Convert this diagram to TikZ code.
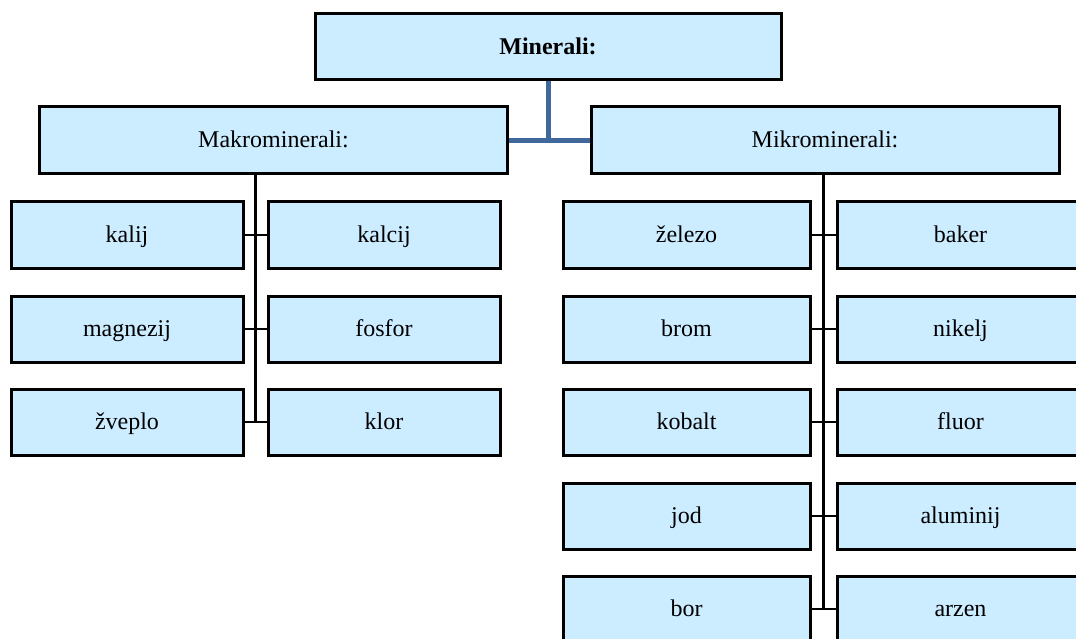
\documentclass[tikz,border=0pt]{standalone}
\usepackage{fontspec}
\setmainfont{Liberation Serif}
\usetikzlibrary{calc}
\definecolor{boxfill}{RGB}{204,236,255}
\definecolor{linkblue}{RGB}{65,104,155}
\tikzset{
  box/.style={draw=black, fill=boxfill, line width=3pt, rectangle,
    inner sep=0pt, text height=18pt, text depth=3pt,
    font=\fontsize{24}{28}\selectfont},
  wide/.style={box, minimum width=468pt, minimum height=66pt},
  leaf/.style={box, minimum width=232pt, minimum height=66pt},
  leafw/.style={box, minimum width=247pt, minimum height=66pt},
  toplink/.style={draw=linkblue, line width=5pt},
  link/.style={draw=black, line width=3pt},
  twig/.style={draw=black, line width=2.5pt}
}
\begin{document}
\begin{tikzpicture}[x=1pt, y=-1pt]
\clip (0,0) rectangle (1076,639);
\fill[white] (0,0) rectangle (1076,639);

% root and the two groups
\node[wide, minimum width=466pt, font=\fontsize{24}{28}\selectfont\bfseries] (root) at (548,47) {Minerali:};
\node[wide, minimum height=67pt] (makro) at (273.5,140.5) {Makrominerali:};
\node[wide, minimum height=67pt] (mikro) at (825,140.5) {Mikrominerali:};

% macrominerals
\node[leaf] (kalij)    at (127,235) {kalij};
\node[leaf] (kalcij)   at (384,235) {kalcij};
\node[leaf] (magnezij) at (127,329) {magnezij};
\node[leaf] (fosfor)   at (384,329) {fosfor};
\node[leaf] (zveplo)   at (127,422) {žveplo};
\node[leaf] (klor)     at (384,422) {klor};

% microminerals
\node[leafw] (zelezo)   at (686.5,235) {železo};
\node[leafw] (baker)    at (960.5,235) {baker};
\node[leafw] (brom)     at (686.5,329) {brom};
\node[leafw] (nikelj)   at (960.5,329) {nikelj};
\node[leafw] (kobalt)   at (686.5,422) {kobalt};
\node[leafw] (fluor)    at (960.5,422) {fluor};
\node[leafw] (jod)      at (686.5,516) {jod};
\node[leafw] (aluminij) at (960.5,516) {aluminij};
\node[leafw] (bor)      at (686.5,609) {bor};
\node[leafw] (arzen)    at (960.5,609) {arzen};

% root connector
\coordinate (joint) at (root.south |- makro.east);
\draw[toplink] (root.south) -- (joint);
\draw[toplink] (makro.east) -- (mikro.west);

% trunks
\coordinate (tl) at ($(kalij.east)!0.5!(kalcij.west)$);
\coordinate (tr) at ($(zelezo.east)!0.5!(baker.west)$);
\draw[link] (tl |- makro.south) -- (tl |- zveplo.east);
\draw[link] (tr |- mikro.south) -- (tr |- bor.east);

% branches
\foreach \a/\b in {kalij/kalcij, magnezij/fosfor, zveplo/klor,
  zelezo/baker, brom/nikelj, kobalt/fluor, jod/aluminij, bor/arzen}
  \draw[twig] (\a.east) -- (\b.west);
\end{tikzpicture}
\end{document}
